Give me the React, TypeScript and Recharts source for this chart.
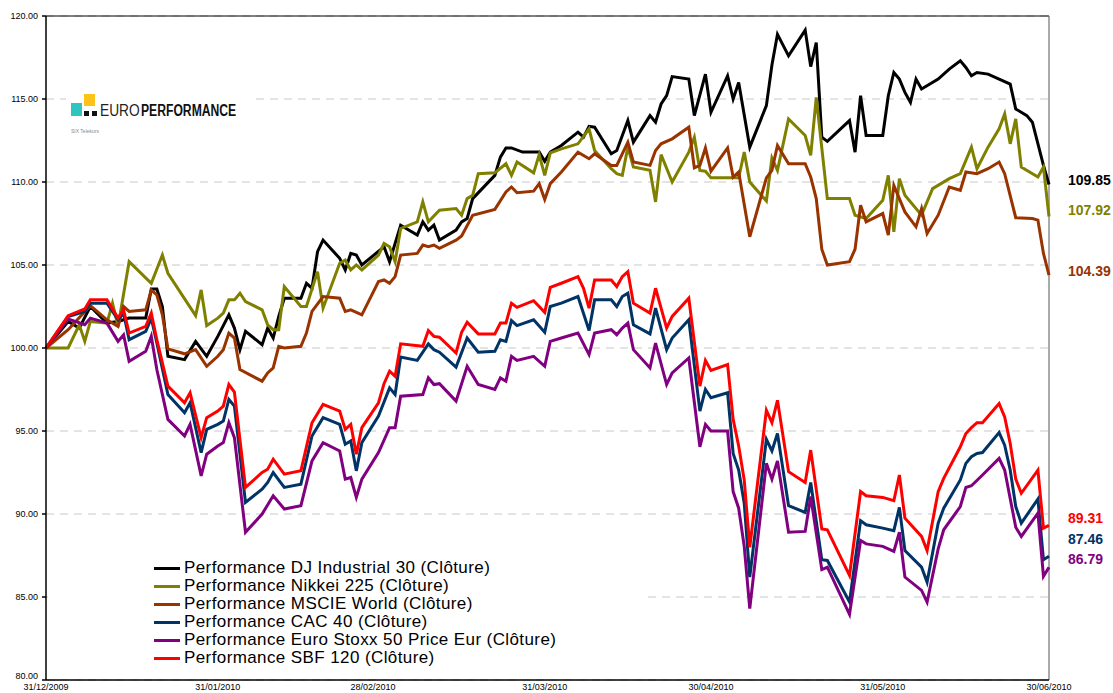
import React from "react";
import {
  LineChart,
  Line,
  XAxis,
  YAxis,
  CartesianGrid,
  ReferenceLine,
  LabelList,
} from "recharts";

// days since 31/12/2009, performance base 100
const djIndustrial: [number, number][] = [
  [0, 100], [4, 101.6], [6, 101.2], [8, 102.5], [11, 101.5], [13, 101.6], [15, 101.8], [18, 101.8],
  [19, 103.55], [20, 103.55], [21, 102.5], [22, 99.5], [25, 99.3], [27, 100.4], [29, 99.5], [31, 100.7],
  [33, 102], [34, 101.2], [35, 99.9], [36, 101], [39, 100.2], [40, 101.2], [41, 100.6], [42, 101.9],
  [43, 103], [46, 103], [47, 103.9], [48, 103.6], [49, 105.8], [50, 106.5], [53, 105.4], [54, 104.7],
  [55, 105.7], [56, 105.6], [57, 105], [61, 106.1], [62, 105.2], [64, 107.4], [67, 106.8], [68, 107.6],
  [69, 107.1], [70, 107.4], [71, 106.5], [74, 107.1], [75, 107.6], [76, 107.8], [77, 109], [81, 110.4],
  [82, 111.5], [83, 112.05], [84, 112.05], [86, 111.8], [89, 111.8], [90, 111.25], [91, 111.8], [93, 112.2],
  [96, 113], [97, 112.7], [98, 113.35], [99, 113.3], [102, 111.7], [103, 111.9], [105, 113.7], [106, 112.4],
  [109, 114], [110, 113.6], [111, 114.7], [112, 115.2], [113, 116.35], [116, 116.2], [117, 114], [119, 116.5],
  [120, 114.2], [123, 116.4], [124, 115], [125, 116], [127, 112.1], [130, 114.6], [131, 117.05], [132, 118.9],
  [134, 117.6], [137, 119.15], [138, 116.95], [139, 118.4], [140, 112.7], [141, 112.45], [145, 113.7], [146, 111.8],
  [147, 115.2], [148, 112.8], [151, 112.8], [152, 115.2], [153, 116.6], [154, 116.2], [155, 115.4], [156, 114.8],
  [157, 116.2], [158, 115.6], [161, 116.2], [163, 116.8], [165, 117.3], [166, 116.9], [167, 116.4], [168, 116.6],
  [170, 116.5], [172, 116.2], [174, 115.9], [175, 114.4], [177, 114], [178, 113.6], [180, 111], [181, 109.85],
];

const nikkei225: [number, number][] = [
  [0, 100], [4, 100], [6, 101.4], [7, 100.4], [8, 101.6], [11, 101.5], [12, 102.7], [13, 101.3],
  [15, 105.2], [19, 103.9], [21, 105.6], [22, 104.5], [27, 101.95], [28, 103.5], [29, 101.35], [31, 101.8],
  [32, 102.1], [33, 102.9], [34, 102.9], [35, 103.3], [36, 102.8], [39, 102.3], [40, 101.4], [41, 101.1],
  [42, 101.1], [43, 103.7], [46, 102.5], [47, 102.5], [49, 104.6], [50, 102.4], [53, 105.1], [54, 105.3],
  [55, 104.7], [56, 105], [57, 104.7], [60, 105.6], [61, 106.3], [62, 106.1], [63, 105.2], [64, 107.2],
  [67, 107.6], [68, 108.8], [69, 107.6], [71, 108.3], [74, 108.4], [75, 108], [76, 109], [77, 109.2],
  [78, 110.5], [81, 110.55], [83, 111.1], [84, 110.4], [85, 111.2], [88, 110.55], [89, 111.65], [90, 110.4],
  [91, 111.75], [93, 112], [96, 112.3], [98, 113.2], [99, 111.9], [102, 110.8], [103, 110.5], [104, 110.4],
  [105, 112.1], [106, 110.9], [109, 110.7], [110, 108.8], [111, 111.65], [113, 110], [116, 111.8], [117, 112.7],
  [118, 110.7], [119, 110.65], [120, 110.25], [125, 110.25], [126, 111.8], [127, 110], [130, 108.85], [131, 111.45],
  [132, 110.7], [134, 113.8], [137, 112.8], [138, 111.6], [139, 115.1], [141, 109], [145, 109], [146, 108],
  [148, 107.8], [151, 108.9], [152, 110.4], [153, 107], [154, 110.2], [155, 109.2], [158, 108], [160, 109.6],
  [163, 110.2], [165, 110.5], [167, 112.1], [168, 110.8], [170, 112.1], [172, 113.2], [173, 114.1], [174, 112.3],
  [175, 113.8], [176, 110.9], [179, 110.3], [180, 110.9], [181, 107.92],
];

const msciWorld: [number, number][] = [
  [0, 100], [4, 101.1], [8, 102.55], [11, 101.7], [13, 101.3], [14, 102.5], [15, 102.2], [18, 102.3],
  [19, 103.5], [20, 103.2], [21, 102], [22, 99.95], [25, 99.65], [27, 99.9], [29, 98.9], [31, 99.5],
  [32, 99.9], [33, 100.9], [34, 100.6], [35, 98.7], [39, 98], [40, 98.5], [41, 98.8], [42, 100.1],
  [43, 100], [46, 100.1], [47, 100.9], [48, 102.2], [50, 103.1], [53, 103], [54, 102.2], [55, 102.3],
  [57, 102], [60, 104], [61, 104.1], [62, 103.9], [63, 104.3], [64, 105.6], [67, 105.7], [68, 106.2],
  [69, 106.1], [70, 106.2], [71, 106], [74, 106.5], [75, 106.75], [77, 108], [81, 108.35], [83, 109.4],
  [84, 109.7], [85, 109.35], [88, 109.45], [89, 109.9], [90, 108.95], [91, 109.9], [93, 110.6], [96, 111.8],
  [98, 111.4], [99, 111.7], [102, 111], [103, 111], [105, 112.4], [106, 111.2], [109, 111], [110, 111.9],
  [111, 112.3], [113, 112.6], [116, 113.3], [117, 110.85], [118, 111], [119, 112.05], [120, 110.65], [123, 112.05],
  [124, 110.3], [125, 110.6], [127, 106.7], [130, 110.25], [131, 110.7], [132, 112.2], [134, 111.1], [137, 111.1],
  [138, 110.3], [139, 109], [140, 105.95], [141, 105], [145, 105.2], [146, 105.95], [147, 108.6], [148, 107.6],
  [151, 108.1], [152, 106.8], [153, 109.8], [155, 108.2], [157, 107.3], [158, 108.4], [159, 106.9], [161, 108],
  [163, 109.7], [165, 109.5], [166, 110.6], [168, 110.5], [170, 110.8], [172, 111.2], [173, 110.5], [175, 107.85],
  [178, 107.8], [179, 107.7], [180, 105.7], [181, 104.39],
];

const cac40: [number, number][] = [
  [0, 100], [4, 101.9], [7, 102.2], [8, 102.7], [11, 102.7], [13, 101.7], [14, 102.1], [15, 100.5],
  [18, 101], [19, 101.8], [20, 100.3], [22, 97.2], [25, 96.1], [26, 96.7], [28, 93.7], [29, 95.1],
  [31, 95.4], [32, 95.6], [33, 96.9], [34, 96.5], [36, 90.7], [39, 91.5], [40, 91.9], [41, 92.5],
  [43, 91.6], [46, 91.8], [48, 94.7], [50, 95.8], [53, 95.4], [54, 94.2], [55, 94.4], [56, 92.6],
  [57, 94.3], [60, 95.9], [62, 97.6], [63, 97.2], [64, 99.45], [67, 99.25], [69, 100.25], [70, 99.9],
  [71, 99.75], [74, 98.85], [76, 100.6], [78, 99.75], [81, 99.8], [82, 100.5], [83, 100.4], [84, 101.65],
  [85, 101.35], [88, 101.7], [90, 100.95], [91, 102.5], [93, 102.7], [96, 103.1], [98, 101.05], [99, 102.9],
  [102, 102.9], [103, 102.5], [104, 103.1], [105, 103.3], [106, 101.4], [109, 100.85], [110, 102.4], [112, 99.9],
  [113, 100.6], [116, 101.7], [118, 96.2], [119, 97.5], [120, 97], [123, 97.3], [124, 93.65], [125, 92.65],
  [126, 90.65], [127, 86.2], [130, 94.5], [131, 93.8], [132, 94.85], [134, 90.5], [137, 90.1], [138, 91.9],
  [140, 87.25], [141, 87.2], [145, 84.7], [147, 89.6], [148, 89.35], [151, 89.15], [153, 89], [154, 90.4],
  [155, 87.8], [158, 86.8], [159, 85.9], [161, 89.45], [162, 90.35], [165, 92.05], [166, 93.05], [167, 93.45],
  [168, 93.65], [169, 93.7], [172, 94.9], [173, 94.15], [174, 92.65], [175, 90.45], [176, 89.45], [179, 90.9],
  [180, 87.25], [181, 87.46],
];

const euroStoxx50: [number, number][] = [
  [0, 100], [4, 101.75], [7, 101.4], [8, 101.8], [11, 101.5], [13, 100.4], [14, 100.8], [15, 99.2],
  [18, 99.8], [19, 100.7], [20, 98.7], [22, 95.7], [25, 94.7], [26, 95.4], [28, 92.3], [29, 93.6],
  [31, 94.1], [32, 94.3], [33, 95.5], [34, 94.6], [36, 88.9], [39, 90], [41, 91.1], [43, 90.3],
  [46, 90.5], [48, 93.2], [50, 94.3], [53, 93.8], [54, 92.1], [55, 92.2], [56, 91], [57, 92.1],
  [60, 93.7], [62, 95.2], [63, 95.2], [64, 97.1], [68, 97.2], [69, 98.2], [70, 97.8], [71, 97.85],
  [74, 96.8], [76, 98.9], [78, 97.8], [81, 97.5], [82, 98.2], [83, 98], [84, 99.5], [85, 99.25],
  [88, 99.5], [90, 98.9], [91, 100.4], [93, 100.6], [96, 100.9], [98, 99.6], [99, 100.9], [102, 101.1],
  [103, 100.8], [104, 101.2], [105, 101.5], [106, 99.9], [109, 98.8], [110, 100.3], [112, 97.8], [113, 98.5],
  [116, 99.4], [118, 94.05], [119, 95.4], [120, 95], [123, 95], [124, 91.35], [125, 90.35], [126, 88.05],
  [127, 84.3], [130, 93.05], [131, 92.1], [132, 93.2], [134, 88.9], [137, 88.95], [138, 91.05], [140, 86.65],
  [141, 86.8], [145, 83.95], [147, 88.4], [148, 88.2], [151, 88.05], [153, 87.75], [154, 88.9], [155, 86.2],
  [158, 85.4], [159, 84.7], [161, 87.9], [162, 89.05], [165, 90.45], [166, 91.6], [167, 91.7], [169, 92.35],
  [172, 93.35], [173, 92.65], [175, 89.2], [176, 88.65], [179, 90.05], [180, 86.25], [181, 86.79],
];

const sbf120: [number, number][] = [
  [0, 100], [4, 101.95], [7, 102.35], [8, 102.9], [11, 102.9], [13, 101.8], [14, 102.3], [15, 100.9],
  [18, 101.3], [19, 102.1], [20, 100.5], [22, 97.7], [25, 96.7], [26, 97.3], [28, 94.6], [29, 95.8],
  [31, 96.2], [32, 96.5], [33, 97.8], [34, 97.35], [36, 91.6], [39, 92.5], [40, 92.7], [41, 93.3],
  [43, 92.4], [46, 92.6], [48, 95.5], [50, 96.6], [53, 96.2], [54, 95.1], [55, 95.4], [56, 93.6],
  [57, 95.2], [60, 96.7], [61, 97.85], [62, 98.6], [63, 98.3], [64, 100.25], [68, 100.1], [69, 101.05],
  [70, 100.7], [71, 100.65], [74, 99.7], [75, 100.95], [76, 101.55], [78, 100.85], [81, 100.85], [82, 101.5],
  [83, 101.5], [84, 102.7], [85, 102.45], [88, 102.85], [90, 102.15], [91, 103.65], [93, 103.9], [96, 104.3],
  [97, 103.6], [98, 102.4], [99, 104.1], [102, 104.1], [103, 103.7], [104, 104.3], [105, 104.6], [106, 102.7],
  [109, 102.1], [110, 103.6], [112, 101.2], [113, 101.9], [116, 103], [118, 97.7], [119, 99.25], [120, 98.65],
  [123, 99], [124, 95.7], [125, 94.1], [126, 92.05], [127, 88], [130, 96.25], [131, 95.5], [132, 96.85],
  [134, 92.55], [137, 91.9], [138, 93.85], [140, 89.1], [141, 89.05], [145, 86.3], [147, 91.35], [148, 91.1],
  [151, 91], [153, 90.8], [154, 92.35], [155, 89.75], [158, 88.65], [159, 87.8], [161, 91.35], [162, 92.15],
  [165, 94.05], [166, 94.85], [167, 95.2], [168, 95.5], [169, 95.5], [172, 96.65], [173, 95.85], [174, 94.25],
  [175, 92.1], [176, 91.25], [179, 92.65], [180, 89.15], [181, 89.31],
];

const tickDays = [0, 31, 59, 90, 120, 151, 181];
const tickDates = ["31/12/2009", "31/01/2010", "28/02/2010", "31/03/2010", "30/04/2010", "31/05/2010", "30/06/2010"];
const yTicks = [80, 85, 90, 95, 100, 105, 110, 115, 120];

const series = [
  { name: "Performance DJ Industrial 30 (Clôture)", color: "#000000", values: djIndustrial, labelDy: -4 },
  { name: "Performance Nikkei 225 (Clôture)", color: "#808000", values: nikkei225, labelDy: -7 },
  { name: "Performance MSCIE World (Clôture)", color: "#993300", values: msciWorld, labelDy: -4 },
  { name: "Performance CAC 40 (Clôture)", color: "#003366", values: cac40, labelDy: -17 },
  { name: "Performance Euro Stoxx 50 Price Eur (Clôture)", color: "#800080", values: euroStoxx50, labelDy: -8 },
  { name: "Performance SBF 120 (Clôture)", color: "#FF0000", values: sbf120, labelDy: -7 },
];

const FONT = "'Liberation Sans', Arial, sans-serif";

// y tick: bottom label sits a little higher so it clears the first date
function YTick(props: any) {
  const { x, y, payload } = props;
  const shift = payload.value === 80 ? -4 : 0;
  return (
    <text x={x} y={y + shift} textAnchor="end" dominantBaseline="central" fontSize={9} fill="#000" fontFamily={FONT}>
      {Number(payload.value).toFixed(2)}
    </text>
  );
}

function Logo() {
  // condensed wordmark: each part squeezed horizontally
  return (
    <svg width={184} height={44} style={{ position: "absolute", left: 66, top: 92 }}>
      <rect x={0} y={0} width={184} height={44} fill="#fff" />
      <rect x={5} y={11} width={11} height={13} fill="#2ec4c0" />
      <rect x={18} y={2} width={11} height={12} fill="#fcc419" />
      <rect x={18} y={19} width={5} height={5} fill="#111" />
      <rect x={26} y={19} width={5} height={5} fill="#111" />
      <g transform="translate(34 24) scale(0.86 1)">
        <text x={0} y={0} fontFamily={FONT} fontSize={16} fill="#222">EURO</text>
      </g>
      <g transform="translate(75 24) scale(0.76 1)">
        <text x={0} y={0} fontFamily={FONT} fontSize={16} fontWeight="bold" fill="#111">PERFORMANCE</text>
      </g>
      <text x={5} y={41} fontFamily={FONT} fontSize={5} fill="#888">
        SIX Telekurs
      </text>
    </svg>
  );
}

function ChartLegend() {
  return (
    <div
      style={{
        position: "absolute",
        left: 48,
        top: 557,
        width: 600,
        height: 114,
        background: "#fff",
        fontFamily: FONT,
        fontSize: 17,
        letterSpacing: 0.4,
        color: "#000",
      }}
    >
      {series.map((s, i) => (
        <div key={s.name} style={{ position: "absolute", left: 106, top: 2 + i * 18, height: 18, lineHeight: "18px", display: "flex", alignItems: "center", whiteSpace: "nowrap" }}>
          <span style={{ display: "inline-block", width: 26, height: 3, background: s.color, marginRight: 4 }} />
          <span>{s.name}</span>
        </div>
      ))}
    </div>
  );
}

export default function App() {
  return (
    <div style={{ position: "absolute", left: 0, top: 0, width: 1113, height: 693, background: "#fff", overflow: "hidden" }}>
      <LineChart width={1113} height={693} margin={{ top: 16, right: 64, left: 6, bottom: 0 }}>
        <CartesianGrid horizontal vertical={false} stroke="#c8c8c8" strokeDasharray="8 6" />
        <XAxis
          type="number"
          dataKey="day"
          domain={[0, 181]}
          ticks={tickDays}
          tickFormatter={(d: number) => tickDates[tickDays.indexOf(d)] ?? ""}
          height={13}
          tickLine={false}
          tickSize={0}
          tickMargin={4}
          interval={0}
          stroke="#000"
          strokeWidth={1.5}
          tick={{ fontSize: 9, fill: "#000", fontFamily: FONT }}
          allowDuplicatedCategory={false}
        />
        <YAxis
          type="number"
          domain={[80, 120]}
          ticks={yTicks}
          interval={0}
          width={40}
          tickSize={4}
          tickMargin={4}
          stroke="#000"
          strokeWidth={1.5}
          tick={<YTick />}
        />
        <ReferenceLine y={120} stroke="#000" strokeWidth={1} />
        <ReferenceLine x={181} stroke="#555" strokeWidth={1} />
        {series.map((s) => {
          const rows = s.values.map(([day, value]) => ({ day, value }));
          const last = rows.length - 1;
          return (
            <Line
              key={s.name}
              data={rows}
              dataKey="value"
              name={s.name}
              type="linear"
              stroke={s.color}
              strokeWidth={3}
              dot={false}
              isAnimationActive={false}
            >
              <LabelList
                dataKey="value"
                content={(p: any) =>
                  p.index === last ? (
                    <text
                      x={Number(p.x) + 19}
                      y={Number(p.y) + s.labelDy}
                      fill={s.color}
                      fontSize={14}
                      fontWeight="bold"
                      fontFamily={FONT}
                      dominantBaseline="central"
                    >
                      {Number(p.value).toFixed(2)}
                    </text>
                  ) : null
                }
              />
            </Line>
          );
        })}
      </LineChart>
      <Logo />
      <ChartLegend />
    </div>
  );
}
